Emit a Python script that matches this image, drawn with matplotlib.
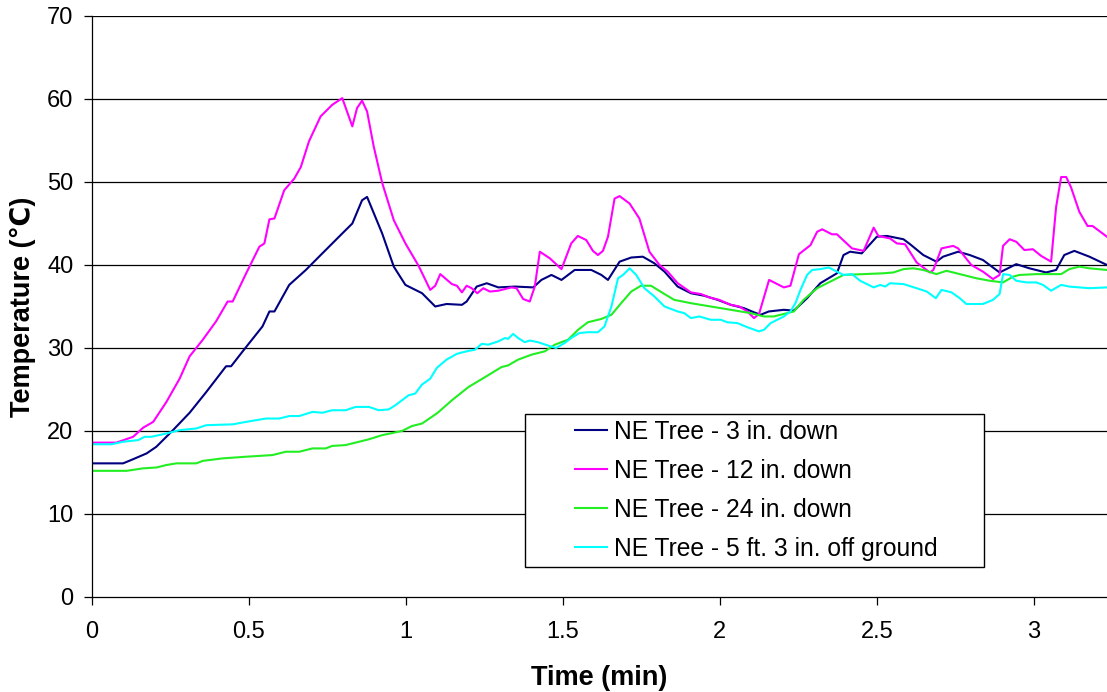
import matplotlib
matplotlib.use("Agg")
import matplotlib.pyplot as plt
from matplotlib.patches import Rectangle

plt.rcParams['font.family'] = ['Liberation Sans', 'DejaVu Sans']

# ---------------- data ----------------
labels = ["NE Tree - 3 in. down", "NE Tree - 12 in. down",
          "NE Tree - 24 in. down", "NE Tree - 5 ft. 3 in. off ground"]

t_3in = [0, 0.10, 0.132, 0.175, 0.206, 0.259, 0.312, 0.365, 0.428, 0.444, 0.481, 0.544, 0.566,
         0.582, 0.629, 0.682, 0.724, 0.798, 0.83, 0.861, 0.877, 0.925, 0.962, 0.999, 1.052,
         1.094, 1.13, 1.179, 1.194, 1.226, 1.258, 1.295, 1.348, 1.406, 1.432, 1.464, 1.496,
         1.538, 1.591, 1.623, 1.644, 1.681, 1.718, 1.755, 1.792, 1.824, 1.866, 1.908, 1.95,
         1.993, 2.035, 2.077, 2.109, 2.13, 2.156, 2.204, 2.236, 2.278, 2.32, 2.373, 2.394,
         2.415, 2.452, 2.5, 2.532, 2.585, 2.606, 2.648, 2.69, 2.711, 2.759, 2.796, 2.838,
         2.891, 2.944, 2.986, 3.039, 3.071, 3.097, 3.129, 3.177, 3.233]
T_3in = [16.1, 16.1, 16.6, 17.3, 18.1, 20.1, 22.2, 24.7, 27.8, 27.8, 29.6, 32.6, 34.4,
         34.4, 37.6, 39.4, 41.0, 43.8, 45.0, 47.8, 48.2, 43.8, 39.8, 37.6, 36.6,
         35.0, 35.3, 35.2, 35.6, 37.4, 37.8, 37.3, 37.4, 37.3, 38.2, 38.8, 38.2,
         39.4, 39.4, 38.8, 38.2, 40.4, 40.9, 41.0, 40.2, 39.2, 37.4, 36.6, 36.3,
         35.8, 35.2, 34.8, 34.3, 34.0, 34.4, 34.6, 34.5, 36.0, 37.8, 39.0, 41.2,
         41.6, 41.4, 43.4, 43.5, 43.1, 42.5, 41.2, 40.4, 41.0, 41.6, 41.2, 40.6,
         39.1, 40.1, 39.6, 39.1, 39.4, 41.2, 41.7, 41.0, 40.0]

t_12in = [0, 0.079, 0.132, 0.164, 0.196, 0.238, 0.28, 0.312, 0.354, 0.396, 0.433, 0.449, 0.492,
          0.534, 0.55, 0.566, 0.582, 0.613, 0.645, 0.666, 0.692, 0.729, 0.766, 0.798, 0.83,
          0.845, 0.861, 0.877, 0.898, 0.925, 0.962, 0.999, 1.041, 1.078, 1.094, 1.11, 1.147,
          1.163, 1.179, 1.194, 1.21, 1.228, 1.247, 1.268, 1.295, 1.337, 1.353, 1.374, 1.395,
          1.411, 1.427, 1.459, 1.496, 1.527, 1.548, 1.575, 1.596, 1.612, 1.628, 1.644, 1.665,
          1.681, 1.713, 1.744, 1.776, 1.808, 1.834, 1.866, 1.908, 1.94, 1.966, 1.998, 2.035,
          2.062, 2.088, 2.109, 2.125, 2.157, 2.204, 2.225, 2.252, 2.289, 2.31, 2.326, 2.357,
          2.373, 2.421, 2.458, 2.49, 2.505, 2.542, 2.564, 2.59, 2.627, 2.669, 2.68, 2.706,
          2.743, 2.759, 2.801, 2.838, 2.87, 2.891, 2.902, 2.923, 2.944, 2.97, 2.997, 3.023,
          3.055, 3.071, 3.087, 3.103, 3.118, 3.145, 3.171, 3.187, 3.233]
T_12in = [18.6, 18.6, 19.3, 20.4, 21.1, 23.5, 26.3, 29.0, 31.0, 33.2, 35.6, 35.6, 39.0,
          42.2, 42.6, 45.5, 45.6, 49.0, 50.4, 51.8, 54.9, 57.9, 59.3, 60.1, 56.7,
          58.9, 59.8, 58.5, 54.3, 49.9, 45.4, 42.6, 39.9, 37.0, 37.5, 38.9, 37.7,
          37.5, 36.7, 37.5, 37.2, 36.6, 37.2, 36.8, 36.9, 37.3, 37.2, 35.9, 35.6,
          37.4, 41.6, 40.8, 39.5, 42.6, 43.5, 43.0, 41.7, 41.2, 41.7, 43.4, 48.0,
          48.3, 47.4, 45.6, 41.6, 40.0, 39.2, 37.8, 36.7, 36.5, 36.1, 35.8, 35.2,
          35.0, 34.4, 33.6, 34.1, 38.2, 37.3, 37.5, 41.3, 42.4, 44.0, 44.3, 43.7,
          43.7, 42.0, 41.7, 44.5, 43.5, 43.2, 42.6, 42.5, 40.3, 39.1, 39.4, 42.0,
          42.3, 42.0, 40.0, 39.2, 38.3, 38.8, 42.3, 43.1, 42.8, 41.8, 41.9, 41.1,
          40.4, 47.0, 50.6, 50.6, 49.4, 46.4, 44.7, 44.7, 43.4]

t_24in = [0, 0.111, 0.164, 0.206, 0.238, 0.27, 0.333, 0.354, 0.417, 0.492, 0.576, 0.618, 0.661,
          0.703, 0.745, 0.766, 0.808, 0.851, 0.883, 0.925, 0.988, 1.02, 1.052, 1.083, 1.102,
          1.147, 1.2, 1.253, 1.305, 1.326, 1.358, 1.401, 1.443, 1.475, 1.517, 1.549, 1.58,
          1.623, 1.655, 1.686, 1.718, 1.749, 1.781, 1.824, 1.855, 1.908, 1.971, 2.035, 2.098,
          2.14, 2.172, 2.236, 2.267, 2.31, 2.352, 2.394, 2.458, 2.521, 2.553, 2.585, 2.616,
          2.648, 2.69, 2.722, 2.775, 2.817, 2.86, 2.902, 2.934, 2.955, 3.008, 3.087, 3.113,
          3.145, 3.177, 3.233]
T_24in = [15.2, 15.2, 15.5, 15.6, 15.9, 16.1, 16.1, 16.4, 16.7, 16.9, 17.1, 17.5, 17.5,
          17.9, 17.9, 18.2, 18.3, 18.7, 19.0, 19.5, 20.0, 20.6, 20.9, 21.7, 22.2,
          23.7, 25.3, 26.5, 27.7, 27.9, 28.6, 29.2, 29.6, 30.4, 31.0, 32.2, 33.1,
          33.5, 34.0, 35.4, 36.8, 37.5, 37.5, 36.5, 35.8, 35.4, 35.0, 34.6, 34.2,
          33.8, 33.8, 34.4, 35.8, 37.2, 38.0, 38.8, 38.9, 39.0, 39.1, 39.5, 39.6,
          39.4, 38.9, 39.3, 38.8, 38.4, 38.1, 37.9, 38.6, 38.8, 38.9, 38.9, 39.5,
          39.8, 39.6, 39.4]

t_5ft = [0, 0.063, 0.1, 0.148, 0.169, 0.19, 0.238, 0.28, 0.333, 0.365, 0.449, 0.492, 0.555,
         0.597, 0.629, 0.661, 0.703, 0.735, 0.766, 0.809, 0.84, 0.883, 0.914, 0.946, 0.967,
         0.988, 1.009, 1.03, 1.052, 1.078, 1.099, 1.13, 1.163, 1.194, 1.221, 1.242, 1.263,
         1.295, 1.316, 1.326, 1.342, 1.358, 1.379, 1.395, 1.421, 1.453, 1.479, 1.506, 1.527,
         1.553, 1.58, 1.612, 1.633, 1.655, 1.676, 1.692, 1.713, 1.734, 1.76, 1.792, 1.824,
         1.866, 1.887, 1.908, 1.935, 1.971, 2.003, 2.024, 2.056, 2.088, 2.125, 2.141, 2.162,
         2.204, 2.225, 2.241, 2.257, 2.278, 2.294, 2.32, 2.347, 2.373, 2.394, 2.421, 2.447,
         2.49, 2.511, 2.527, 2.542, 2.585, 2.627, 2.659, 2.688, 2.706, 2.738, 2.764, 2.785,
         2.838, 2.87, 2.891, 2.902, 2.923, 2.944, 2.976, 3.008, 3.029, 3.055, 3.087, 3.113,
         3.177, 3.233]
T_5ft = [18.4, 18.4, 18.7, 18.9, 19.3, 19.3, 19.7, 20.1, 20.3, 20.7, 20.8, 21.1, 21.5,
         21.5, 21.8, 21.8, 22.3, 22.2, 22.5, 22.5, 22.9, 22.9, 22.5, 22.6, 23.1,
         23.7, 24.3, 24.5, 25.6, 26.3, 27.6, 28.6, 29.3, 29.6, 29.8, 30.5, 30.4,
         30.8, 31.2, 31.1, 31.7, 31.2, 30.7, 30.9, 30.7, 30.3, 30.0, 30.6, 31.2,
         31.8, 31.9, 31.9, 32.6, 35.0, 38.4, 38.8, 39.6, 38.8, 37.2, 36.2, 35.0,
         34.4, 34.2, 33.6, 33.8, 33.4, 33.4, 33.1, 33.0, 32.5, 32.0, 32.2, 33.0,
         33.8, 34.4, 35.4, 37.0, 38.8, 39.4, 39.5, 39.7, 39.2, 38.8, 38.9, 38.1,
         37.3, 37.6, 37.4, 37.8, 37.7, 37.2, 36.8, 36.0, 37.0, 36.7, 36.0, 35.3,
         35.3, 35.8, 36.5, 38.9, 38.8, 38.1, 37.9, 37.9, 37.6, 36.9, 37.6, 37.4,
         37.2, 37.3]

x_ticks = [0, 0.5, 1, 1.5, 2, 2.5, 3]
x_tick_labels = ["0", "0.5", "1", "1.5", "2", "2.5", "3"]
y_ticks = [0, 10, 20, 30, 40, 50, 60, 70]

colors = ["#000080", "#FF00FF", "#22EE22", "#00FFFF"]

# ---------------- figure ----------------
fig = plt.figure(figsize=(11.07, 6.92), dpi=100)
ax = fig.add_axes([0.0828, 0.1373, 1.0 - 0.0828, 0.9769 - 0.1373])

series = [(t_3in, T_3in), (t_12in, T_12in), (t_24in, T_24in), (t_5ft, T_5ft)]
lines = []
for (tt, TT), c, lab in zip(series, colors, labels):
    ln, = ax.plot(tt, TT, color=c, lw=1.5, label=lab, solid_joinstyle='round')
    lines.append(ln)

ax.set_xlim(0, 3.233)
ax.set_ylim(0, 70)
ax.set_xticks(x_ticks)
ax.set_xticklabels(x_tick_labels)
ax.set_yticks(y_ticks)

for yv in y_ticks[1:]:
    ax.axhline(yv, color='black', lw=0.9, zorder=0.5)

for s in ['top', 'right']:
    ax.spines[s].set_visible(False)
for s in ['left', 'bottom']:
    ax.spines[s].set_color('black')
    ax.spines[s].set_linewidth(0.9)

ax.tick_params(axis='both', direction='out', length=6, width=0.9, labelsize=17, colors='black')
ax.tick_params(axis='x', pad=11)
ax.tick_params(axis='y', pad=7)

ax.set_xlabel("Time (min)", fontsize=19.5, fontweight='bold', labelpad=16)
ax.set_ylabel("Temperature (℃)", fontsize=19.5, fontweight='bold', labelpad=8)

# legend box
lx0, ly0, lx1, ly1 = 0.4268, 0.052, 0.879, 0.3145
ax.add_patch(Rectangle((lx0, ly0), lx1 - lx0, ly1 - ly0, transform=ax.transAxes,
                       facecolor='white', edgecolor='black', lw=1.0, zorder=5))
leg = ax.legend(handles=lines, labels=labels, loc='center left',
                bbox_to_anchor=(0.476, (ly0 + ly1) / 2), frameon=False,
                fontsize=17.7, handlelength=1.3, handletextpad=0.28,
                labelspacing=0.61, borderpad=0, borderaxespad=0)
leg.set_zorder(6)
for h in leg.legend_handles:
    h.set_linewidth(1.5)

fig.savefig("out.png", dpi=100)
